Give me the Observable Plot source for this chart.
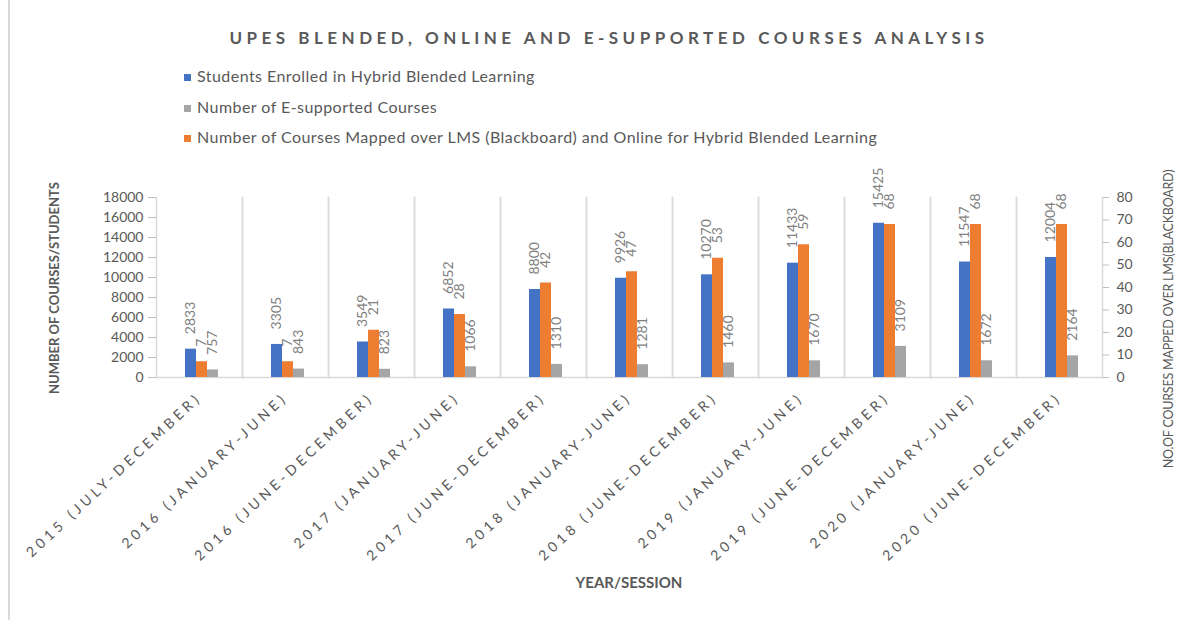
<!DOCTYPE html>
<html>
<head>
<meta charset="utf-8">
<script src="https://cdn.jsdelivr.net/npm/d3@7"></script>
<script src="https://cdn.jsdelivr.net/npm/@observablehq/plot@0.6"></script>
<style>
  body { margin: 0; background: #fff; font-family: Lato, "Open Sans", sans-serif; }
  #wrap { position: relative; width: 1198px; height: 620px; overflow: hidden; background: #fff; }
  #border { position: absolute; left: 8px; top: 0; width: 2px; height: 620px; background: #d9d9d9; }
  #title { position: absolute; left: 10px; width: 1198px; top: 27px; text-align: center; font-weight: bold;
           font-size: 17px; letter-spacing: 4.5px; color: #595959; line-height: 22px; white-space: nowrap; }
  .leg { position: absolute; left: 184px; font-size: 16px; letter-spacing: 0.45px; color: #595959; line-height: 20px; white-space: nowrap; }
  .sw { display: inline-block; width: 7px; height: 7px; margin-right: 6px; vertical-align: 1px; }
  #chart { position: absolute; left: 0; top: 150px; }
  .ax { position: absolute; color: #595959; white-space: nowrap; transform: translate(-50%, -50%); line-height: 18px; }
  .rot { transform: translate(-50%, -50%) rotate(-90deg); }
  svg g[aria-label="fx-axis tick label"] { letter-spacing: 4px; }
</style>
</head>
<body>
<div id="wrap">
  <div id="border"></div>
  <div id="title"></div>
  <div id="legend"></div>
  <div id="chart"></div>
  <div class="ax rot" id="ytitle" style="left:54px; top:288px; font-weight:bold; font-size:13px;"></div>
  <div class="ax rot" id="y2title" style="left:1169px; top:319px; font-size:12.5px; letter-spacing:-0.2px;"></div>
  <div class="ax" id="xtitle" style="left:629px; top:582px; font-weight:bold; font-size:15px;"></div>
</div>
<script>
const titleText = "UPES BLENDED, ONLINE AND E-SUPPORTED COURSES ANALYSIS";
const xTitle = "YEAR/SESSION";
const yTitle = "NUMBER OF COURSES/STUDENTS";
const y2Title = "NO.OF COURSES MAPPED OVER LMS(BLACKBOARD)";

const categories = [
  "2015 (JULY-DECEMBER)", "2016 (JANUARY-JUNE)", "2016 (JUNE-DECEMBER)",
  "2017 (JANUARY-JUNE)", "2017 (JUNE-DECEMBER)", "2018 (JANUARY-JUNE)",
  "2018 (JUNE-DECEMBER)", "2019 (JANUARY-JUNE)", "2019 (JUNE-DECEMBER)",
  "2020 (JANUARY-JUNE)", "2020 (JUNE-DECEMBER)"
];
const seriesNames = [
  "Students Enrolled in Hybrid Blended Learning",
  "Number of Courses Mapped over LMS (Blackboard) and Online for Hybrid Blended Learning",
  "Number of E-supported Courses"
];
const legendOrder = [0, 2, 1];
const seriesColors = ["#4472C4", "#ED7D31", "#A5A5A5"];

const students   = [2833, 3305, 3549, 6852, 8800, 9926, 10270, 11433, 15425, 11547, 12004];
const lmsCourses = [7, 7, 21, 28, 42, 47, 53, 59, 68, 68, 68];
const eCourses   = [757, 843, 823, 1066, 1310, 1281, 1460, 1670, 3109, 1672, 2164];

const leftTicks  = [0, 2000, 4000, 6000, 8000, 10000, 12000, 14000, 16000, 18000];
const rightTicks = [0, 10, 20, 30, 40, 50, 60, 70, 80];
const leftMax = 18000, rightMax = 80;
const ratio = leftMax / rightMax;

document.getElementById("title").textContent = titleText;
document.getElementById("xtitle").textContent = xTitle;
document.getElementById("ytitle").textContent = yTitle;
document.getElementById("y2title").textContent = y2Title;

const legendTops = [66, 97, 127];
const legend = document.getElementById("legend");
legendOrder.forEach((si, k) => {
  const d = document.createElement("div");
  d.className = "leg";
  d.style.top = legendTops[k] + "px";
  const sw = document.createElement("span");
  sw.className = "sw";
  sw.style.background = seriesColors[si];
  d.appendChild(sw);
  d.appendChild(document.createTextNode(seriesNames[si]));
  legend.appendChild(d);
});

const rows = categories.flatMap((c, i) => [
  {cat: c, series: seriesNames[0], value: students[i], y: students[i]},
  {cat: c, series: seriesNames[1], value: lmsCourses[i], y: lmsCourses[i] * ratio},
  {cat: c, series: seriesNames[2], value: eCourses[i], y: eCourses[i]}
]);

const lineColor = "#d9d9d9";
const chart = Plot.plot({
  width: 1198,
  height: 470,
  marginTop: 47,
  marginBottom: 243,
  marginLeft: 153,
  marginRight: 94,
  style: {fontFamily: "Lato, 'Open Sans', sans-serif", color: "#595959", background: "transparent", overflow: "visible"},
  fx: {domain: categories, padding: 0, label: null},
  x: {domain: seriesNames, paddingInner: 0, paddingOuter: 2.1, align: 0.55, axis: null},
  y: {domain: [0, leftMax], axis: null},
  color: {domain: seriesNames, range: seriesColors},
  marks: [
    Plot.frame({anchor: "left", stroke: lineColor, strokeWidth: 1.5}),
    Plot.frame({anchor: "right", stroke: lineColor, strokeWidth: 1.5}),
    Plot.frame({anchor: "bottom", stroke: lineColor, strokeWidth: 1.5}),
    Plot.barY(rows, {fx: "cat", x: "series", y: "y", fill: "series"}),
    Plot.text(rows, {fx: "cat", x: "series", y: "y", text: d => String(d.value), rotate: -90,
      textAnchor: "start", dy: -15, fill: "#7f7f7f", fontSize: 14}),
    Plot.axisY({ticks: leftTicks, anchor: "left", tickFormat: d => String(d), tickSize: 8, tickPadding: 5,
      stroke: "#bfbfbf", fill: "#595959", fontSize: 14, label: null}),
    Plot.axisY({ticks: rightTicks.map(v => v * ratio), anchor: "right", tickFormat: d => String(Math.round(d / ratio)),
      tickSize: 6, tickPadding: 8, stroke: "#bfbfbf", fill: "#595959", fontSize: 14, label: null}),
    Plot.axisFx({anchor: "bottom", tickRotate: -43, tickSize: 0, tickPadding: 18, fontSize: 14,
      fill: "#595959", label: null})
  ]
});
document.getElementById("chart").appendChild(chart);
</script>
</body>
</html>
